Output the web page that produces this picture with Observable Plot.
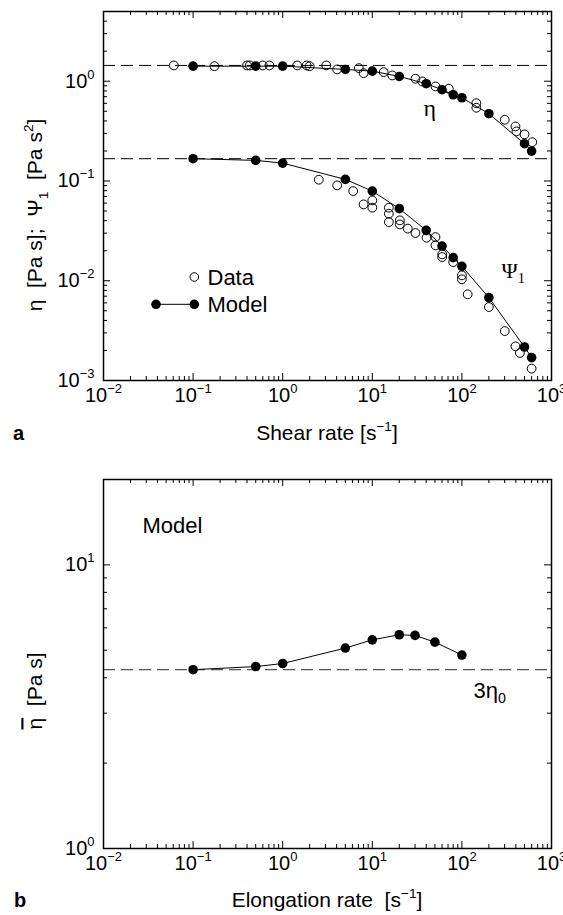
<!DOCTYPE html>
<html><head><meta charset="utf-8">
<script src="https://cdn.jsdelivr.net/npm/d3@7"></script>
<script src="https://cdn.jsdelivr.net/npm/@observablehq/plot@0.6"></script>
<style>
body{margin:0;background:#fff;}
#wrap{position:relative;width:563px;height:915px;font-family:"Liberation Sans",Arial,sans-serif;}
#wrap svg{position:absolute;left:0;overflow:visible;}
</style></head><body><div id="wrap"></div>
<script>
// ---------- data ----------
const modelShearRate = [0.1, 0.5, 1, 5, 10, 20, 40, 60, 80, 100, 200, 500, 600];
const modelEta  = [1.416, 1.416, 1.416, 1.313, 1.262, 1.117, 0.944, 0.822, 0.732, 0.683, 0.4725, 0.2364, 0.1993];
const modelPsi1 = [0.1673, 0.1609, 0.1511, 0.1038, 0.0792, 0.0528, 0.03199, 0.02227, 0.01704, 0.01394, 0.00677, 0.002166, 0.001696];

const dataEtaRate = [0.061, 0.173, 0.40, 0.43, 0.60, 0.71, 1.45, 1.85, 2.0, 3.06, 4.05, 7.08, 8.0, 13.4, 16.7, 30.3, 36.0, 50.7, 71.4, 145, 145, 301, 396, 406, 500, 610];
const dataEta     = [1.44, 1.416, 1.44, 1.44, 1.44, 1.44, 1.44, 1.44, 1.416, 1.44, 1.313, 1.353, 1.205, 1.234, 1.143, 1.059, 0.995, 0.887, 0.841, 0.603, 0.542, 0.411, 0.352, 0.314, 0.293, 0.245];

const dataPsiRate = [2.53, 4.05, 6.12, 8.0, 10.0, 10.0, 15.3, 15.3, 15.3, 20.3, 20.3, 24.9, 30.3, 40.3, 50.7, 50.7, 60.3, 60.3, 80, 100, 100, 116, 200, 301, 396, 444, 600];
const dataPsi1    = [0.1030, 0.0903, 0.0792, 0.0583, 0.0639, 0.0540, 0.0540, 0.0470, 0.0387, 0.0403, 0.0367, 0.0333, 0.0301, 0.0270, 0.0274, 0.02263, 0.01839, 0.01728, 0.01539, 0.01132, 0.01033, 0.00731, 0.00545, 0.00313, 0.00220, 0.001887, 0.001316];

const elongRate = [0.1, 0.5, 1, 5, 10, 20, 30, 50, 100];
const elongEta  = [4.27, 4.38, 4.49, 5.09, 5.44, 5.67, 5.64, 5.34, 4.81];

const eta0 = 1.44;        // zero-shear viscosity (dashed line, panel a)
const psi10 = 0.1673;     // zero-shear first normal stress coefficient
const threeEta0 = 4.27;   // 3*eta0 (dashed line, panel b)

const xMajorTicks = [1e-2, 1e-1, 1e0, 1e1, 1e2, 1e3];
const yMajorTicksA = [1e-3, 1e-2, 1e-1, 1e0];
const yMajorTicksB = [1e0, 1e1];

// ---------- helpers ----------
const minorsOf = (majors, extra = []) => {
  const out = [];
  for (const m of majors) for (let k = 2; k <= 9; k++) out.push(m * k);
  return out.concat(extra);
};
const xMinorTicks = minorsOf(xMajorTicks.slice(0, -1));
const yMinorTicksA = minorsOf(yMajorTicksA.slice(0, -1), [2, 3, 4]);
const yMinorTicksB = minorsOf([1]);

const pow10 = d => "10^{" + String(Math.round(Math.log10(d))).replace("-", "\u2212") + "}";

// markup: ^{sup}  _{sub}  ~{overlined}
function richify(svg) {
  d3.select(svg).selectAll("text").each(function () {
    const s = this.textContent;
    if (!/[\^_~]\{/.test(s)) return;
    const fs = parseFloat(getComputedStyle(this).fontSize) || 20;
    const parts = []; const re = /([\^_~])\{([^}]*)\}/g; let last = 0, m;
    while ((m = re.exec(s))) { if (m.index > last) parts.push({t: s.slice(last, m.index)}); parts.push({t: m[2], k: m[1]}); last = re.lastIndex; }
    if (last < s.length) parts.push({t: s.slice(last)});
    const t = d3.select(this); t.text(null);
    let off = 0;
    for (const p of parts) {
      const target = p.k === "^" ? -0.45 * fs : p.k === "_" ? 0.25 * fs : 0;
      const ts = t.append("tspan").text(p.t);
      if (target !== off) { ts.attr("dy", target - off); off = target; }
      if (p.k === "^" || p.k === "_") ts.attr("font-size", 0.65 * fs);
      if (p.k === "~") ts.style("text-decoration", "overline");
    }
  });
}

function inward(xMaj, xMin, yMaj, yMin, fw, fh) {
  const mj = 7, mn = 4, s = {stroke: "black", strokeWidth: 1};
  return [
    Plot.tickX(xMaj, {x: d => d, insetTop: fh - mj, ...s}),
    Plot.tickX(xMaj, {x: d => d, insetBottom: fh - mj, ...s}),
    Plot.tickX(xMin, {x: d => d, insetTop: fh - mn, ...s}),
    Plot.tickX(xMin, {x: d => d, insetBottom: fh - mn, ...s}),
    Plot.tickY(yMaj, {y: d => d, insetRight: fw - mj, ...s}),
    Plot.tickY(yMaj, {y: d => d, insetLeft: fw - mj, ...s}),
    Plot.tickY(yMin, {y: d => d, insetRight: fw - mn, ...s}),
    Plot.tickY(yMin, {y: d => d, insetLeft: fw - mn, ...s})
  ];
}

function addText(svg, str, x, y, opts = {}) {
  const t = d3.select(svg).append("text")
    .attr("x", 0).attr("y", 0)
    .attr("transform", `translate(${x},${y})` + (opts.rotate ? ` rotate(${opts.rotate})` : ""))
    .attr("text-anchor", opts.anchor || "middle")
    .attr("dy", "0.35em")
    .attr("font-size", opts.size || 21)
    .attr("font-weight", opts.weight || "normal")
    .attr("font-family", opts.family || "Liberation Sans, Arial, sans-serif")
    .style("white-space", "pre")
    .attr("fill", "black")
    .text(str);
  return t.node();
}

const W = 563;
const wrap = document.getElementById("wrap");
const FONT = "Liberation Sans, Arial, sans-serif";
const ann = {frameAnchor: "top-left", lineAnchor: "middle"};

// ---------- panel a ----------
const mA = {top: 11, bottom: 80, left: 103, right: 12}, HA = 460;
const fwA = W - mA.left - mA.right, fhA = HA - mA.top - mA.bottom;
const model = modelShearRate.map((r, i) => ({r, eta: modelEta[i], psi: modelPsi1[i]}));
const etaPts = dataEtaRate.map((r, i) => ({r, v: dataEta[i]}));
const psiPts = dataPsiRate.map((r, i) => ({r, v: dataPsi1[i]}));

const plotA = Plot.plot({
  width: W, height: HA,
  marginTop: mA.top, marginBottom: mA.bottom, marginLeft: mA.left, marginRight: mA.right,
  x: {type: "log", domain: [1e-2, 1e3], axis: null},
  y: {type: "log", domain: [1e-3, 5], axis: null},
  style: {fontFamily: FONT, fontSize: "20px", color: "black", background: "white", overflow: "visible"},
  marks: [
    Plot.ruleY([eta0, psi10], {stroke: "black", strokeWidth: 1, strokeDasharray: "12,6"}),
    Plot.dot(etaPts, {x: "r", y: "v", r: 4.4, stroke: "black", fill: "none", strokeWidth: 1}),
    Plot.dot(psiPts, {x: "r", y: "v", r: 4.4, stroke: "black", fill: "none", strokeWidth: 1}),
    Plot.line(model, {x: "r", y: "eta", stroke: "black", strokeWidth: 1}),
    Plot.line(model, {x: "r", y: "psi", stroke: "black", strokeWidth: 1}),
    Plot.dot(model, {x: "r", y: "eta", r: 4.8, fill: "black", stroke: "none"}),
    Plot.dot(model, {x: "r", y: "psi", r: 4.8, fill: "black", stroke: "none"}),
    ...inward(xMajorTicks, xMinorTicks, yMajorTicksA, yMinorTicksA, fwA, fhA),
    Plot.frame({stroke: "black", strokeWidth: 1.5}),
    Plot.axisX({ticks: xMajorTicks, anchor: "bottom", tickSize: 0, tickPadding: 7, tickFormat: pow10, label: null, fontSize: 20}),
    Plot.axisY({ticks: yMajorTicksA, anchor: "left", tickSize: 0, tickPadding: 9, tickFormat: pow10, label: null, fontSize: 20}),
    Plot.text(["\u03b7"], {...ann, dx: 320, dy: 97, fontSize: 24, fontFamily: "Liberation Serif, serif"}),
    Plot.text(["\u03a8_{1}"], {...ann, dx: 398, dy: 259, fontSize: 22, fontFamily: "Liberation Serif, serif"}),
    Plot.text(["Data"], {...ann, dx: 104, dy: 266, textAnchor: "start", fontSize: 22}),
    Plot.text(["Model"], {...ann, dx: 104, dy: 293, textAnchor: "start", fontSize: 22})
  ]
});
plotA.style.top = "0px";
wrap.appendChild(plotA);
// legend symbols
{
  const g = d3.select(plotA).append("g");
  g.append("circle").attr("cx", 194.3).attr("cy", 277).attr("r", 4.3).attr("fill", "none").attr("stroke", "black");
  g.append("line").attr("x1", 156).attr("x2", 194.3).attr("y1", 304.3).attr("y2", 304.3).attr("stroke", "black");
  g.append("circle").attr("cx", 156).attr("cy", 304.3).attr("r", 4.8).attr("fill", "black");
  g.append("circle").attr("cx", 194.3).attr("cy", 304.3).attr("r", 4.8).attr("fill", "black");
}
addText(plotA, "\u03b7  [Pa s];  \u03a8_{1}  [Pa s^{2}]", 35, 215, {rotate: -90, size: 21});
addText(plotA, "Shear rate [s^{\u22121}]", 327, 433, {size: 21});
addText(plotA, "a", 13, 433, {anchor: "start", size: 20, weight: "bold"});
richify(plotA);

// ---------- panel b ----------
const mB = {top: 19, bottom: 67, left: 103, right: 12}, HB = 455;
const fwB = W - mB.left - mB.right, fhB = HB - mB.top - mB.bottom;
const elong = elongRate.map((r, i) => ({r, v: elongEta[i]}));
const plotB = Plot.plot({
  width: W, height: HB,
  marginTop: mB.top, marginBottom: mB.bottom, marginLeft: mB.left, marginRight: mB.right,
  x: {type: "log", domain: [1e-2, 1e3], axis: null},
  y: {type: "log", domain: [1, 20], axis: null},
  style: {fontFamily: FONT, fontSize: "20px", color: "black", background: "white", overflow: "visible"},
  marks: [
    Plot.ruleY([threeEta0], {stroke: "#555", strokeWidth: 1.3, strokeDasharray: "12,6"}),
    Plot.line(elong, {x: "r", y: "v", stroke: "black", strokeWidth: 1}),
    Plot.dot(elong, {x: "r", y: "v", r: 4.8, fill: "black", stroke: "none"}),
    ...inward(xMajorTicks, xMinorTicks, yMajorTicksB, yMinorTicksB, fwB, fhB),
    Plot.frame({stroke: "black", strokeWidth: 1.5}),
    Plot.axisX({ticks: xMajorTicks, anchor: "bottom", tickSize: 0, tickPadding: 7, tickFormat: pow10, label: null, fontSize: 20}),
    Plot.axisY({ticks: yMajorTicksB, anchor: "left", tickSize: 0, tickPadding: 9, tickFormat: pow10, label: null, fontSize: 20}),
    Plot.text(["Model"], {...ann, dx: 39, dy: 46, textAnchor: "start", fontSize: 22}),
    Plot.text(["3\u03b7_{0}"], {...ann, dx: 370, dy: 211, textAnchor: "start", fontSize: 22})
  ]
});
plotB.style.top = "460px";
wrap.appendChild(plotB);
addText(plotB, "~{\u03b7}  [Pa s]", 35, 231, {rotate: -90, size: 21});
addText(plotB, "Elongation rate  [s^{\u22121}]", 327, 440, {size: 21});
addText(plotB, "b", 14, 440, {anchor: "start", size: 20, weight: "bold"});
richify(plotB);
</script></body></html>
